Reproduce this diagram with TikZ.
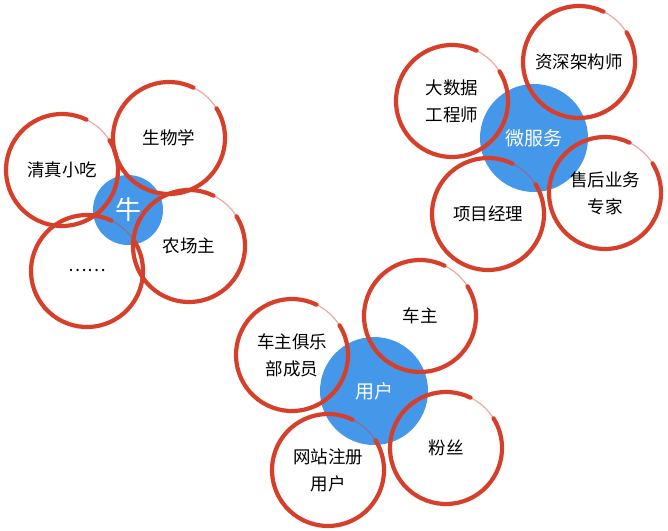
\documentclass[tikz,border=0pt]{standalone}
\usepackage{fontspec}
\newfontfamily\cjk{Noto Sans CJK SC}
\definecolor{ringred}{HTML}{D6402B}
\definecolor{hubblue}{HTML}{4497E9}
\begin{document}
\begin{tikzpicture}[x=1pt,y=1pt,
  hub/.style={circle, fill=hubblue, inner sep=0pt, text=white, font=\cjk\fontsize{19}{22}\selectfont},
  ring/.style={circle, minimum size=116pt, inner sep=0pt, align=center, text=black, font=\cjk\fontsize{17.5}{27}\selectfont},
  brush/.style={draw=ringred, line width=4.2pt, line cap=round},
  tail/.style={draw=ringred, line width=1.2pt, opacity=0.45, line cap=round}]
\useasboundingbox (0,0) rectangle (668,-530);
% hubs
\node[hub, minimum size=70pt, font=\cjk\fontsize{26}{28}\selectfont] (niu) at (128,-210) {牛};
\node[hub, minimum size=108pt] (wfw) at (534,-138) {微服务};
\node[hub, minimum size=108pt] (yh) at (374,-391) {用户};
% rings group 1
\node[ring] (qz) at (62,-170) {清真小吃};
\node[ring] (swx) at (169,-138) {生物学};
\node[ring] (ncz) at (189,-246) {农场主};
\node[ring] (dots) at (87,-271) {……};
% rings group 2
\node[ring] (dsj) at (452,-101) {大数据\\工程师};
\node[ring] (zsj) at (579,-62) {资深架构师};
\node[ring] (xmjl) at (488,-214) {项目经理};
\node[ring] (shyw) at (605,-193) {售后业务\\专家};
% rings group 3
\node[ring] (cz) at (420,-316) {车主};
\node[ring] (czjlb) at (292,-355) {车主俱乐\\部成员};
\node[ring] (wzzc) at (328,-470) {网站注册\\用户};
\node[ring] (fs) at (446,-448) {粉丝};
\foreach \n in {qz,swx,ncz,dots,dsj,zsj,xmjl,shyw,cz,czjlb,wzzc,fs}{
  \draw[brush] ([shift={(64:56pt)}]\n.center) arc[start angle=64, end angle=392, radius=56pt];
  \draw[tail] ([shift={(28:56pt)}]\n.center) arc[start angle=28, end angle=76, radius=56pt];
}
\end{tikzpicture}
\end{document}
